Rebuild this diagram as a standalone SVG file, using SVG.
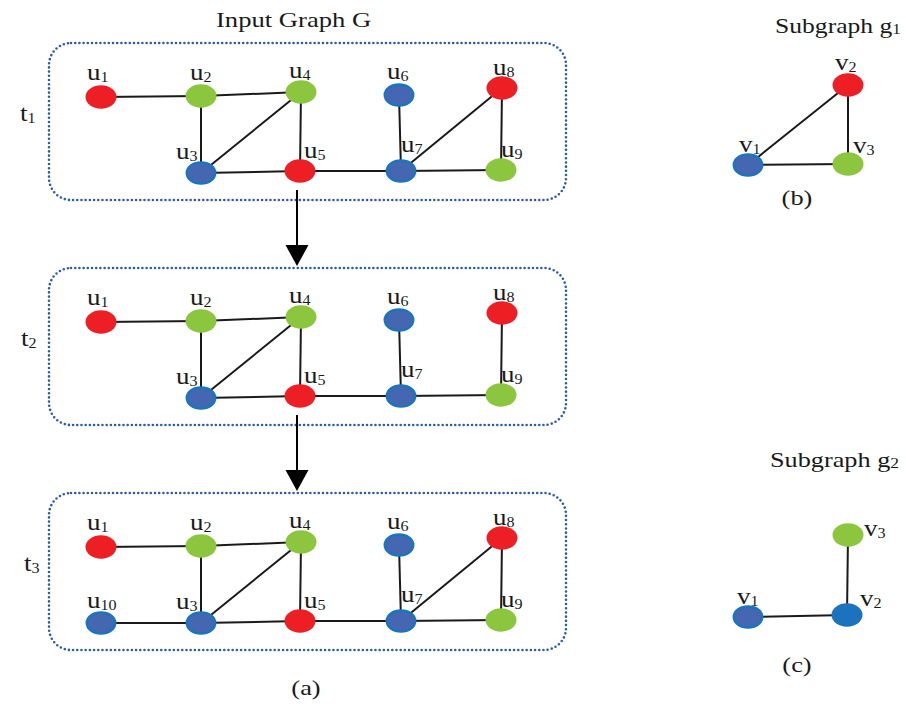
<svg xmlns="http://www.w3.org/2000/svg" width="906" height="704" viewBox="0 0 906 704">
<style>
text{font-family:"Liberation Serif","Times New Roman",serif;fill:#1a1a1a}
.lbl{font-size:23.5px}
.sub{font-size:14px}
.ttl{font-size:22px}
.box{fill:none;stroke:#2f5ca8;stroke-width:2.6;stroke-dasharray:0 4.2;stroke-linecap:round}
.e{stroke:#1a1a1a;stroke-width:2;fill:none}
.r{fill:#ed1f24}
.g{fill:#8cc63f}
.b{fill:#4567b1;stroke:#1c75bc;stroke-width:2.5}
.bb{fill:#1c73bd}
.arr{stroke:#000;stroke-width:2}
</style>
<defs>
<ellipse id="nr" class="r" rx="15.5" ry="11.7"/>
<ellipse id="ng" class="g" rx="15.5" ry="11.7"/>
<ellipse id="nb" class="b" rx="14.2" ry="10.5"/>
</defs>

<!-- titles -->
<text class="ttl" transform="matrix(1.21 0 0 1 216 27)">Input Graph G</text>
<text class="ttl" style="font-size:21px" transform="matrix(1.22 0 0 1 775 33)">Subgraph g<tspan class="sub" dy="1">1</tspan></text>
<text class="ttl" style="font-size:21px" transform="matrix(1.25 0 0 1 770 467)">Subgraph g<tspan class="sub" dy="1">2</tspan></text>
<text class="ttl" text-anchor="middle" transform="matrix(1.2 0 0 1 306 695)">(a)</text>
<text class="ttl" text-anchor="middle" transform="matrix(1.2 0 0 1 797 205)">(b)</text>
<text class="ttl" text-anchor="middle" transform="matrix(1.2 0 0 1 797 672)">(c)</text>

<!-- time labels -->
<text class="lbl" transform="matrix(1.15 0 0 1 20 121)">t<tspan class="sub" dy="2">1</tspan></text>
<text class="lbl" transform="matrix(1.15 0 0 1 21 346)">t<tspan class="sub" dy="2">2</tspan></text>
<text class="lbl" transform="matrix(1.15 0 0 1 24 571)">t<tspan class="sub" dy="2">3</tspan></text>

<!-- boxes -->
<rect class="box" x="49" y="43" width="517" height="157" rx="22"/>
<rect class="box" x="49" y="268" width="517" height="157" rx="22"/>
<rect class="box" x="49" y="493" width="517" height="157" rx="22"/>

<!-- connectors -->
<g id="connectors">
  <!-- t1 -->
  <line class="e" x1="101" y1="97" x2="201" y2="96"/>
  <line class="e" x1="201" y1="96" x2="301" y2="92"/>
  <line class="e" x1="201" y1="96" x2="201" y2="173"/>
  <line class="e" x1="201" y1="173" x2="301" y2="92"/>
  <line class="e" x1="301" y1="92" x2="300" y2="171"/>
  <line class="e" x1="201" y1="173" x2="300" y2="171"/>
  <line class="e" x1="300" y1="171" x2="401" y2="171"/>
  <line class="e" x1="399" y1="95" x2="401" y2="171"/>
  <line class="e" x1="401" y1="171" x2="502" y2="88"/>
  <line class="e" x1="502" y1="88" x2="501" y2="170"/>
  <line class="e" x1="401" y1="171" x2="501" y2="170"/>
  <!-- t2 -->
  <line class="e" x1="101" y1="322" x2="201" y2="321"/>
  <line class="e" x1="201" y1="321" x2="301" y2="317"/>
  <line class="e" x1="201" y1="321" x2="201" y2="398"/>
  <line class="e" x1="201" y1="398" x2="301" y2="317"/>
  <line class="e" x1="301" y1="317" x2="300" y2="396"/>
  <line class="e" x1="201" y1="398" x2="300" y2="396"/>
  <line class="e" x1="300" y1="396" x2="401" y2="396"/>
  <line class="e" x1="399" y1="320" x2="401" y2="396"/>
  <line class="e" x1="502" y1="313" x2="501" y2="395"/>
  <line class="e" x1="401" y1="396" x2="501" y2="395"/>
  <!-- t3 -->
  <line class="e" x1="101" y1="547" x2="201" y2="546"/>
  <line class="e" x1="201" y1="546" x2="301" y2="542"/>
  <line class="e" x1="201" y1="546" x2="201" y2="623"/>
  <line class="e" x1="201" y1="623" x2="301" y2="542"/>
  <line class="e" x1="301" y1="542" x2="300" y2="621"/>
  <line class="e" x1="101" y1="623" x2="201" y2="623"/>
  <line class="e" x1="201" y1="623" x2="300" y2="621"/>
  <line class="e" x1="300" y1="621" x2="401" y2="621"/>
  <line class="e" x1="399" y1="545" x2="401" y2="621"/>
  <line class="e" x1="401" y1="621" x2="502" y2="538"/>
  <line class="e" x1="502" y1="538" x2="501" y2="620"/>
  <line class="e" x1="401" y1="621" x2="501" y2="620"/>
  <!-- g1 -->
  <line class="e" x1="748" y1="165" x2="848" y2="85"/>
  <line class="e" x1="848" y1="85" x2="848" y2="164"/>
  <line class="e" x1="748" y1="165" x2="848" y2="164"/>
  <!-- g2 -->
  <line class="e" x1="848" y1="535" x2="847" y2="615"/>
  <line class="e" x1="748" y1="617" x2="847" y2="615"/>
  <!-- time arrows -->
  <line class="arr" x1="297" y1="190" x2="297" y2="250"/>
  <polygon points="285.5,245 308.5,245 297,266"/>
  <line class="arr" x1="297" y1="415" x2="297" y2="475"/>
  <polygon points="285.5,470 308.5,470 297,491"/>
</g>

<!-- t1 nodes -->
<g id="t1-u1"><use href="#nr" x="101" y="97"/><text class="lbl" transform="matrix(1.15 0 0 1 87 80)">u<tspan class="sub" dy="2">1</tspan></text></g>
<g id="t1-u2"><use href="#ng" x="201" y="96"/><text class="lbl" transform="matrix(1.15 0 0 1 190 80)">u<tspan class="sub" dy="2">2</tspan></text></g>
<g id="t1-u4"><use href="#ng" x="301" y="92"/><text class="lbl" transform="matrix(1.15 0 0 1 289 78)">u<tspan class="sub" dy="2">4</tspan></text></g>
<g id="t1-u6"><use href="#nb" x="399" y="95"/><text class="lbl" transform="matrix(1.15 0 0 1 387 79)">u<tspan class="sub" dy="2">6</tspan></text></g>
<g id="t1-u8"><use href="#nr" x="502" y="88"/><text class="lbl" transform="matrix(1.15 0 0 1 493 75)">u<tspan class="sub" dy="2">8</tspan></text></g>
<g id="t1-u3"><use href="#nb" x="201" y="173"/><text class="lbl" transform="matrix(1.15 0 0 1 176 159)">u<tspan class="sub" dy="2">3</tspan></text></g>
<g id="t1-u5"><use href="#nr" x="300" y="171"/><text class="lbl" transform="matrix(1.15 0 0 1 304 158)">u<tspan class="sub" dy="2">5</tspan></text></g>
<g id="t1-u7"><use href="#nb" x="401" y="171"/><text class="lbl" transform="matrix(1.15 0 0 1 401 152)">u<tspan class="sub" dy="2">7</tspan></text></g>
<g id="t1-u9"><use href="#ng" x="501" y="170"/><text class="lbl" transform="matrix(1.15 0 0 1 501 157)">u<tspan class="sub" dy="2">9</tspan></text></g>

<!-- t2 nodes -->
<g id="t2-u1"><use href="#nr" x="101" y="322"/><text class="lbl" transform="matrix(1.15 0 0 1 87 305)">u<tspan class="sub" dy="2">1</tspan></text></g>
<g id="t2-u2"><use href="#ng" x="201" y="321"/><text class="lbl" transform="matrix(1.15 0 0 1 190 305)">u<tspan class="sub" dy="2">2</tspan></text></g>
<g id="t2-u4"><use href="#ng" x="301" y="317"/><text class="lbl" transform="matrix(1.15 0 0 1 289 303)">u<tspan class="sub" dy="2">4</tspan></text></g>
<g id="t2-u6"><use href="#nb" x="399" y="320"/><text class="lbl" transform="matrix(1.15 0 0 1 387 304)">u<tspan class="sub" dy="2">6</tspan></text></g>
<g id="t2-u8"><use href="#nr" x="502" y="313"/><text class="lbl" transform="matrix(1.15 0 0 1 493 300)">u<tspan class="sub" dy="2">8</tspan></text></g>
<g id="t2-u3"><use href="#nb" x="201" y="398"/><text class="lbl" transform="matrix(1.15 0 0 1 176 384)">u<tspan class="sub" dy="2">3</tspan></text></g>
<g id="t2-u5"><use href="#nr" x="300" y="396"/><text class="lbl" transform="matrix(1.15 0 0 1 304 383)">u<tspan class="sub" dy="2">5</tspan></text></g>
<g id="t2-u7"><use href="#nb" x="401" y="396"/><text class="lbl" transform="matrix(1.15 0 0 1 401 377)">u<tspan class="sub" dy="2">7</tspan></text></g>
<g id="t2-u9"><use href="#ng" x="501" y="395"/><text class="lbl" transform="matrix(1.15 0 0 1 501 382)">u<tspan class="sub" dy="2">9</tspan></text></g>

<!-- t3 nodes -->
<g id="t3-u1"><use href="#nr" x="101" y="547"/><text class="lbl" transform="matrix(1.15 0 0 1 87 530)">u<tspan class="sub" dy="2">1</tspan></text></g>
<g id="t3-u2"><use href="#ng" x="201" y="546"/><text class="lbl" transform="matrix(1.15 0 0 1 190 530)">u<tspan class="sub" dy="2">2</tspan></text></g>
<g id="t3-u4"><use href="#ng" x="301" y="542"/><text class="lbl" transform="matrix(1.15 0 0 1 289 528)">u<tspan class="sub" dy="2">4</tspan></text></g>
<g id="t3-u6"><use href="#nb" x="399" y="545"/><text class="lbl" transform="matrix(1.15 0 0 1 387 529)">u<tspan class="sub" dy="2">6</tspan></text></g>
<g id="t3-u8"><use href="#nr" x="502" y="538"/><text class="lbl" transform="matrix(1.15 0 0 1 493 525)">u<tspan class="sub" dy="2">8</tspan></text></g>
<g id="t3-u10"><use href="#nb" x="101" y="623"/><text class="lbl" transform="matrix(1.15 0 0 1 87 608)">u<tspan class="sub" dy="2">10</tspan></text></g>
<g id="t3-u3"><use href="#nb" x="201" y="623"/><text class="lbl" transform="matrix(1.15 0 0 1 176 609)">u<tspan class="sub" dy="2">3</tspan></text></g>
<g id="t3-u5"><use href="#nr" x="300" y="621"/><text class="lbl" transform="matrix(1.15 0 0 1 304 608)">u<tspan class="sub" dy="2">5</tspan></text></g>
<g id="t3-u7"><use href="#nb" x="401" y="621"/><text class="lbl" transform="matrix(1.15 0 0 1 401 602)">u<tspan class="sub" dy="2">7</tspan></text></g>
<g id="t3-u9"><use href="#ng" x="501" y="620"/><text class="lbl" transform="matrix(1.15 0 0 1 501 607)">u<tspan class="sub" dy="2">9</tspan></text></g>

<!-- subgraph g1 -->
<g id="g1-v1"><use href="#nb" x="748" y="165"/><text class="lbl" transform="matrix(1.15 0 0 1 739 152)">v<tspan class="sub" dy="2">1</tspan></text></g>
<g id="g1-v2"><use href="#nr" x="848" y="85"/><text class="lbl" transform="matrix(1.15 0 0 1 835 70)">v<tspan class="sub" dy="2">2</tspan></text></g>
<g id="g1-v3"><use href="#ng" x="848" y="164"/><text class="lbl" transform="matrix(1.15 0 0 1 853 153)">v<tspan class="sub" dy="2">3</tspan></text></g>

<!-- subgraph g2 -->
<g id="g2-v1"><use href="#nb" x="748" y="617"/><text class="lbl" transform="matrix(1.15 0 0 1 737 604)">v<tspan class="sub" dy="2">1</tspan></text></g>
<g id="g2-v2"><ellipse class="bb" cx="847" cy="615" rx="15.5" ry="11.7"/><text class="lbl" transform="matrix(1.15 0 0 1 860 606)">v<tspan class="sub" dy="2">2</tspan></text></g>
<g id="g2-v3"><use href="#ng" x="848" y="535"/><text class="lbl" transform="matrix(1.15 0 0 1 864 536)">v<tspan class="sub" dy="2">3</tspan></text></g>
</svg>
